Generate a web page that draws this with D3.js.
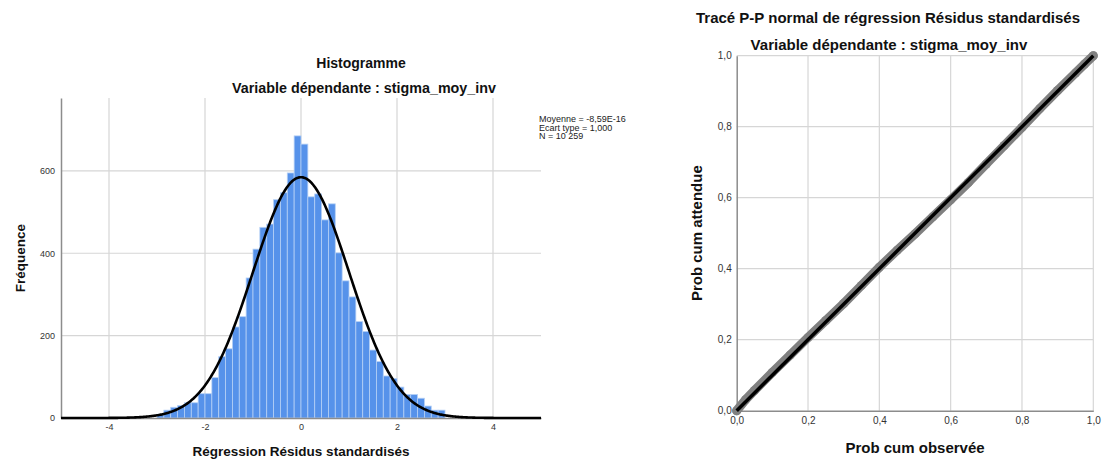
<!DOCTYPE html>
<html><head><meta charset="utf-8">
<script src="https://cdn.jsdelivr.net/npm/d3@7"></script>
<style>
body{margin:0;background:#fff}
svg{display:block}
text{font-family:"Liberation Sans",Arial,sans-serif}
</style>
</head><body>
<svg id="c" width="1104" height="461"></svg>
<script>
// ---------- data ----------
const histTitle = "Histogramme";
const subTitle = "Variable dépendante : stigma_moy_inv";
const histXLabel = "Régression Résidus standardisés";
const histYLabel = "Fréquence";
const binStart = -3;
const binWidth = 1 / 7;
const binCounts = [9, 19, 26, 30, 37, 37, 59, 59, 98, 149, 168, 221, 246, 340, 410, 463, 471, 530, 547, 595,
                   685, 665, 537, 544, 481, 520, 401, 333, 294, 234, 210, 165, 137, 102, 96, 75, 57, 57, 48, 29, 19, 19];
const histXTicks = [-4, -2, 0, 2, 4];
const histYTicks = [0, 200, 400, 600];
const statMean = -8.59e-16;
const statSd = 1.0;
const statN = 10259;
const legendLines = ["Moyenne = -8,59E-16", "Ecart type = 1,000", "N = 10 259"];

const ppTitle = "Tracé P-P normal de régression Résidus standardisés";
const ppXLabel = "Prob cum observée";
const ppYLabel = "Prob cum attendue";
const ppObserved = [0.00, 0.025, 0.05, 0.10, 0.15, 0.20, 0.25, 0.30, 0.35, 0.40, 0.45, 0.50, 0.55, 0.60, 0.65, 0.70, 0.75, 0.80, 0.85, 0.90, 0.95, 0.975, 1.00];
const ppExpected = [0.000, 0.031, 0.057, 0.108, 0.157, 0.206, 0.254, 0.302, 0.353, 0.404, 0.452, 0.498, 0.546, 0.594, 0.643, 0.695, 0.747, 0.798, 0.851, 0.902, 0.951, 0.976, 1.000];
const ppTicks = [0, 0.2, 0.4, 0.6, 0.8, 1.0];

// ---------- drawing ----------
const svg = d3.select("#c");
const gridCol = "#d6d6d6", axisCol = "#8c8c8c", tickCol = "#333";
const fmtComma = d => d3.format(".1f")(d).replace(".", ",");

// ===== Histogram =====
const hx = d3.scaleLinear().domain([-5, 5]).range([61, 541]);
const hy = d3.scaleLinear().domain([0, 777]).range([418, 98]);
const hg = svg.append("g");

hg.selectAll("line.vg").data(histXTicks).join("line")
  .attr("x1", d => hx(d)).attr("x2", d => hx(d)).attr("y1", hy.range()[1]).attr("y2", hy.range()[0])
  .attr("stroke", gridCol).attr("stroke-width", 1.2);
hg.selectAll("line.hg").data(histYTicks.filter(d => d > 0)).join("line")
  .attr("x1", hx.range()[0]).attr("x2", hx.range()[1]).attr("y1", d => hy(d)).attr("y2", d => hy(d))
  .attr("stroke", gridCol).attr("stroke-width", 1.2);

const bins = binCounts.map((c, i) => ({x0: binStart + i * binWidth, x1: binStart + (i + 1) * binWidth, c}));
hg.selectAll("rect.bar").data(bins).join("rect")
  .attr("x", d => hx(d.x0)).attr("width", d => hx(d.x1) - hx(d.x0))
  .attr("y", d => hy(d.c)).attr("height", d => hy(0) - hy(d.c))
  .attr("fill", "#5692EA").attr("stroke", "#b5d0f5").attr("stroke-width", 0.8);

// axes
const hxAxis = d3.axisBottom(hx).tickValues(histXTicks).tickSize(0).tickPadding(6).tickFormat(d => d3.format("d")(d).replace("−", "-"));
const gx = hg.append("g").attr("transform", `translate(0,${hy(0)})`).call(hxAxis);
gx.select(".domain").attr("stroke", axisCol).attr("stroke-width", 1.5);
gx.selectAll("text").attr("fill", tickCol).attr("font-size", 9);
const hyAxis = d3.axisLeft(hy).tickValues(histYTicks).tickSize(0).tickPadding(6);
const gy = hg.append("g").attr("transform", `translate(${hx.range()[0]},0)`).call(hyAxis);
gy.select(".domain").attr("stroke", axisCol).attr("stroke-width", 1.5);
gy.selectAll("text").attr("fill", tickCol).attr("font-size", 9);

// normal curve from stats
const curveX = d3.range(-5, 5.001, 0.02);
const scaleN = statN * binWidth;
const line = d3.line().x(d => hx(d)).y(d => hy(scaleN * Math.exp(-0.5 * ((d - statMean) / statSd) ** 2) / (statSd * Math.sqrt(2 * Math.PI))));
hg.append("path").datum(curveX).attr("d", line).attr("fill", "none").attr("stroke", "#000").attr("stroke-width", 2.6);

// titles
hg.append("text").attr("x", 361).attr("y", 68).attr("text-anchor", "middle").attr("font-weight", "bold").attr("font-size", 14).attr("fill", "#111").text(histTitle);
hg.append("text").attr("x", 364).attr("y", 93).attr("text-anchor", "middle").attr("font-weight", "bold").attr("font-size", 14.3).attr("fill", "#111").text(subTitle);
hg.append("text").attr("x", (hx.range()[0] + hx.range()[1]) / 2).attr("y", 456).attr("text-anchor", "middle").attr("font-weight", "bold").attr("font-size", 13.5).attr("fill", "#111").text(histXLabel);
hg.append("text").attr("transform", `translate(25,${(hy.range()[0] + hy.range()[1]) / 2}) rotate(-90)`).attr("text-anchor", "middle").attr("font-weight", "bold").attr("font-size", 13.5).attr("fill", "#111").text(histYLabel);

// legend
hg.selectAll("text.leg").data(legendLines).join("text").attr("class", "leg")
  .attr("x", 539).attr("y", (d, i) => 122 + i * 8.5).attr("font-size", 9).attr("fill", "#222").text(d => d);

// ===== P-P plot =====
const px = d3.scaleLinear().domain([0, 1]).range([736.7, 1093.3]);
const py = d3.scaleLinear().domain([0, 1]).range([410.7, 55.7]);
const pg = svg.append("g");
pg.selectAll("line.vg").data(ppTicks.filter(d => d > 0)).join("line")
  .attr("x1", d => px(d)).attr("x2", d => px(d)).attr("y1", py(1)).attr("y2", py(0))
  .attr("stroke", gridCol).attr("stroke-width", 1.2);
pg.selectAll("line.hg").data(ppTicks.filter(d => d > 0)).join("line")
  .attr("x1", px(0)).attr("x2", px(1)).attr("y1", d => py(d)).attr("y2", d => py(d))
  .attr("stroke", gridCol).attr("stroke-width", 1.2);

const pxAxis = d3.axisBottom(px).tickValues(ppTicks).tickSize(0).tickPadding(6).tickFormat(fmtComma);
const gpx = pg.append("g").attr("transform", `translate(0,${py(0)})`).call(pxAxis);
gpx.select(".domain").attr("stroke", axisCol).attr("stroke-width", 1.5);
gpx.selectAll("text").attr("fill", tickCol).attr("font-size", 10);
const pyAxis = d3.axisLeft(py).tickValues(ppTicks).tickSize(0).tickPadding(5).tickFormat(fmtComma);
const gpy = pg.append("g").attr("transform", `translate(${px(0)},0)`).call(pyAxis);
gpy.select(".domain").attr("stroke", axisCol).attr("stroke-width", 1.5);
gpy.selectAll("text").attr("fill", tickCol).attr("font-size", 10);

// observed points (band)
const pts = ppObserved.map((o, i) => [o, ppExpected[i]]);
pg.append("path").datum(pts).attr("d", d3.line().x(d => px(d[0])).y(d => py(d[1])))
  .attr("fill", "none").attr("stroke", "#808080").attr("stroke-width", 9).attr("stroke-linecap", "round").attr("stroke-linejoin", "round");
pg.selectAll("circle.pt").data(pts).join("circle")
  .attr("cx", d => px(d[0])).attr("cy", d => py(d[1])).attr("r", 4.5).attr("fill", "#808080");
// reference diagonal
pg.append("line").attr("x1", px(0)).attr("y1", py(0)).attr("x2", px(1)).attr("y2", py(1))
  .attr("stroke", "#000").attr("stroke-width", 3.5);

pg.append("text").attr("x", 888).attr("y", 23).attr("text-anchor", "middle").attr("font-weight", "bold").attr("font-size", 15).attr("fill", "#111").text(ppTitle);
pg.append("text").attr("x", 889).attr("y", 50).attr("text-anchor", "middle").attr("font-weight", "bold").attr("font-size", 15).attr("fill", "#111").text(subTitle);
pg.append("text").attr("x", (px.range()[0] + px.range()[1]) / 2).attr("y", 453).attr("text-anchor", "middle").attr("font-weight", "bold").attr("font-size", 15).attr("fill", "#111").text(ppXLabel);
pg.append("text").attr("transform", `translate(702,${(py.range()[0] + py.range()[1]) / 2}) rotate(-90)`).attr("text-anchor", "middle").attr("font-weight", "bold").attr("font-size", 15).attr("fill", "#111").text(ppYLabel);
</script>
</body></html>
